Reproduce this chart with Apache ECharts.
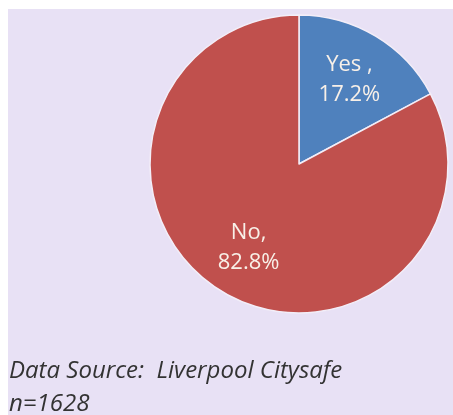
<!DOCTYPE html>
<html>
<head>
<meta charset="utf-8">
<script src="https://cdn.jsdelivr.net/npm/echarts@6/dist/echarts.min.js"></script>
<style>
  html, body { margin: 0; padding: 0; background: #ffffff; }
  #chart { width: 453px; height: 415px; }
</style>
</head>
<body>
<div id="chart"></div>
<script>
// Survey answers (share of respondents, %)
const categories = ['Yes', 'No'];
const shares = [17.2, 82.8];
const labelSeparators = [' ,', ','];
const sliceColors = ['#4F81BD', '#C0504D'];

const sourceNote = 'Data Source:  Liverpool Citysafe';
const sampleNote = 'n=1628';

const pieCenter = [299, 164];
const pieRadius = 149;

const pieData = categories.map((name, i) => ({
  name: name,
  value: shares[i],
  itemStyle: { color: sliceColors[i] }
}));

const chart = echarts.init(document.getElementById('chart'), null, { renderer: 'canvas' });

chart.setOption({
  backgroundColor: '#ffffff',
  animation: false,
  graphic: [
    {
      type: 'rect',
      z: -10,
      shape: { x: 8, y: 9, width: 445, height: 406 },
      style: { fill: '#E8E1F5' }
    },
    {
      type: 'text',
      left: 9,
      top: 359,
      style: {
        text: sourceNote,
        fill: '#333333',
        font: 'italic 24px "Open Sans", sans-serif'
      }
    },
    {
      type: 'text',
      left: 9,
      top: 392,
      style: {
        text: sampleNote,
        fill: '#333333',
        font: 'italic 24px "Open Sans", sans-serif'
      }
    }
  ],
  series: [
    {
      type: 'pie',
      center: pieCenter,
      radius: pieRadius,
      startAngle: 90,
      clockwise: true,
      silent: true,
      label: { show: false },
      labelLine: { show: false },
      itemStyle: { borderColor: '#F3EEF8', borderWidth: 1.5 },
      data: pieData
    },
    {
      // transparent ring used only to place the slice labels
      type: 'pie',
      center: pieCenter,
      radius: [41, pieRadius],
      startAngle: 90,
      clockwise: true,
      silent: true,
      itemStyle: { color: 'rgba(0,0,0,0)', borderWidth: 0 },
      labelLine: { show: false },
      label: {
        show: true,
        position: 'inside',
        color: '#F8F0E8',
        fontFamily: '"Open Sans", sans-serif',
        fontSize: 22,
        lineHeight: 30,
        formatter: p => p.name + labelSeparators[p.dataIndex] + '\n' + p.value.toFixed(1) + '%'
      },
      data: categories.map((name, i) => ({ name: name, value: shares[i] }))
    }
  ]
});
</script>
</body>
</html>
